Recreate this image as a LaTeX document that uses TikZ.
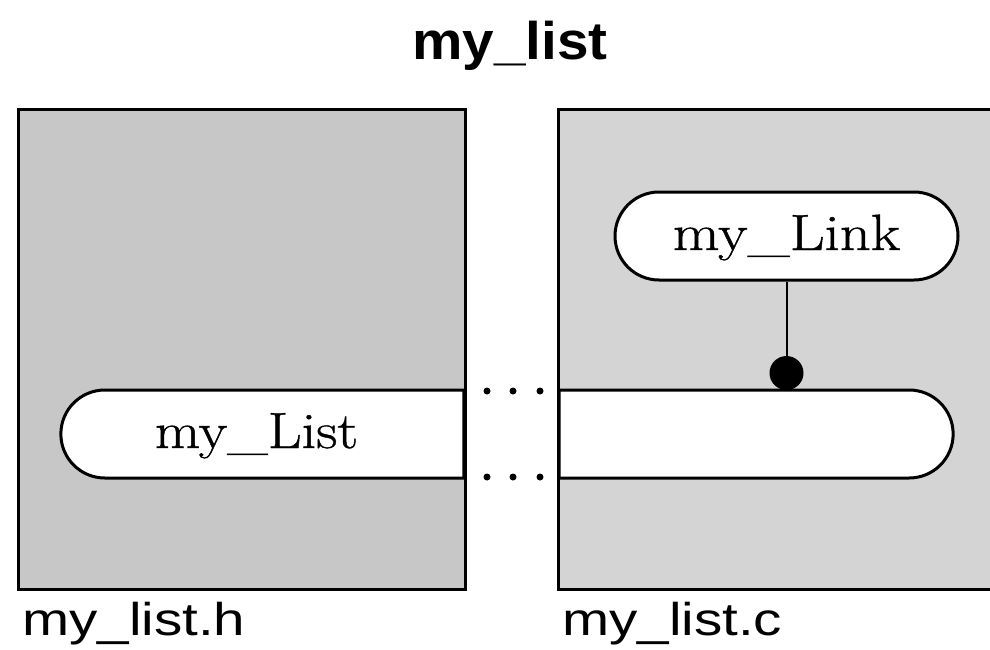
\documentclass[tikz,border=0pt]{standalone}
\usepackage{fontspec}
\setsansfont{Liberation Sans}
\newfontfamily\capfont{Latin Modern Roman}[FakeBold=0.8]
\usetikzlibrary{shapes.misc}
\begin{document}
\begin{tikzpicture}[x=1pt,y=-1pt,
  panel/.style={fill=black!22, draw=black, line width=3pt},
  panelfill/.style={fill=black!17},
  capsule/.style={rounded rectangle, draw=black, fill=white, line width=3pt,
    inner sep=0pt, minimum height=88pt, text height=28pt, text depth=0pt},
  serifname/.style={font=\capfont\fontsize{51}{56}\selectfont},
  filename/.style={font=\sffamily\fontsize{46}{50}\selectfont, inner sep=0pt},
  titletext/.style={font=\sffamily\bfseries\fontsize{53}{58}\selectfont, inner sep=0pt},
  pin/.style={circle, fill=black, inner sep=0pt, minimum size=34pt},
  link/.style={line width=2pt},
  gapdot/.style={fill=black}]
\useasboundingbox (0,0) rectangle (990,650);
% title
\node[titletext, anchor=base] (title) at (510,60) {\scalebox{1.07}[1]{my\_list}};
% panels
\path[panel] (18,110) rectangle (465,589);
\path[panelfill] (558,110) rectangle (990,589);
\draw[line width=3pt] (991,110) -- (558,110) -- (558,589) -- (991,589);
% pin and connector
\node[pin] (dot) at (786.5,373) {};
% capsules
\node[capsule, serifname, rounded rectangle right arc=none, minimum width=403pt]
  (list) at (263.5,434) {\hspace*{-14pt}\scalebox{1.15}[1]{my\_List}};
\node[capsule, rounded rectangle left arc=none, minimum width=394pt]
  (listc) at (755,434) {};
\node[capsule, serifname, minimum width=343pt]
  (mylink) at (786.5,236) {\scalebox{1.19}[1]{my\_Link}};
\draw[link] (mylink.south) -- (dot.center);
% gap dots
\foreach \x in {487,513,540}{
  \fill[gapdot] (\x,391) circle (3.5pt);
  \fill[gapdot] (\x,477) circle (3.5pt);
}
% file names
\node[filename, anchor=base west] (hfile) at (22,635) {\scalebox{1.23}[1]{my\_list.h}};
\node[filename, anchor=base west] (cfile) at (562,635) {\scalebox{1.23}[1]{my\_list.c}};
\end{tikzpicture}
\end{document}
